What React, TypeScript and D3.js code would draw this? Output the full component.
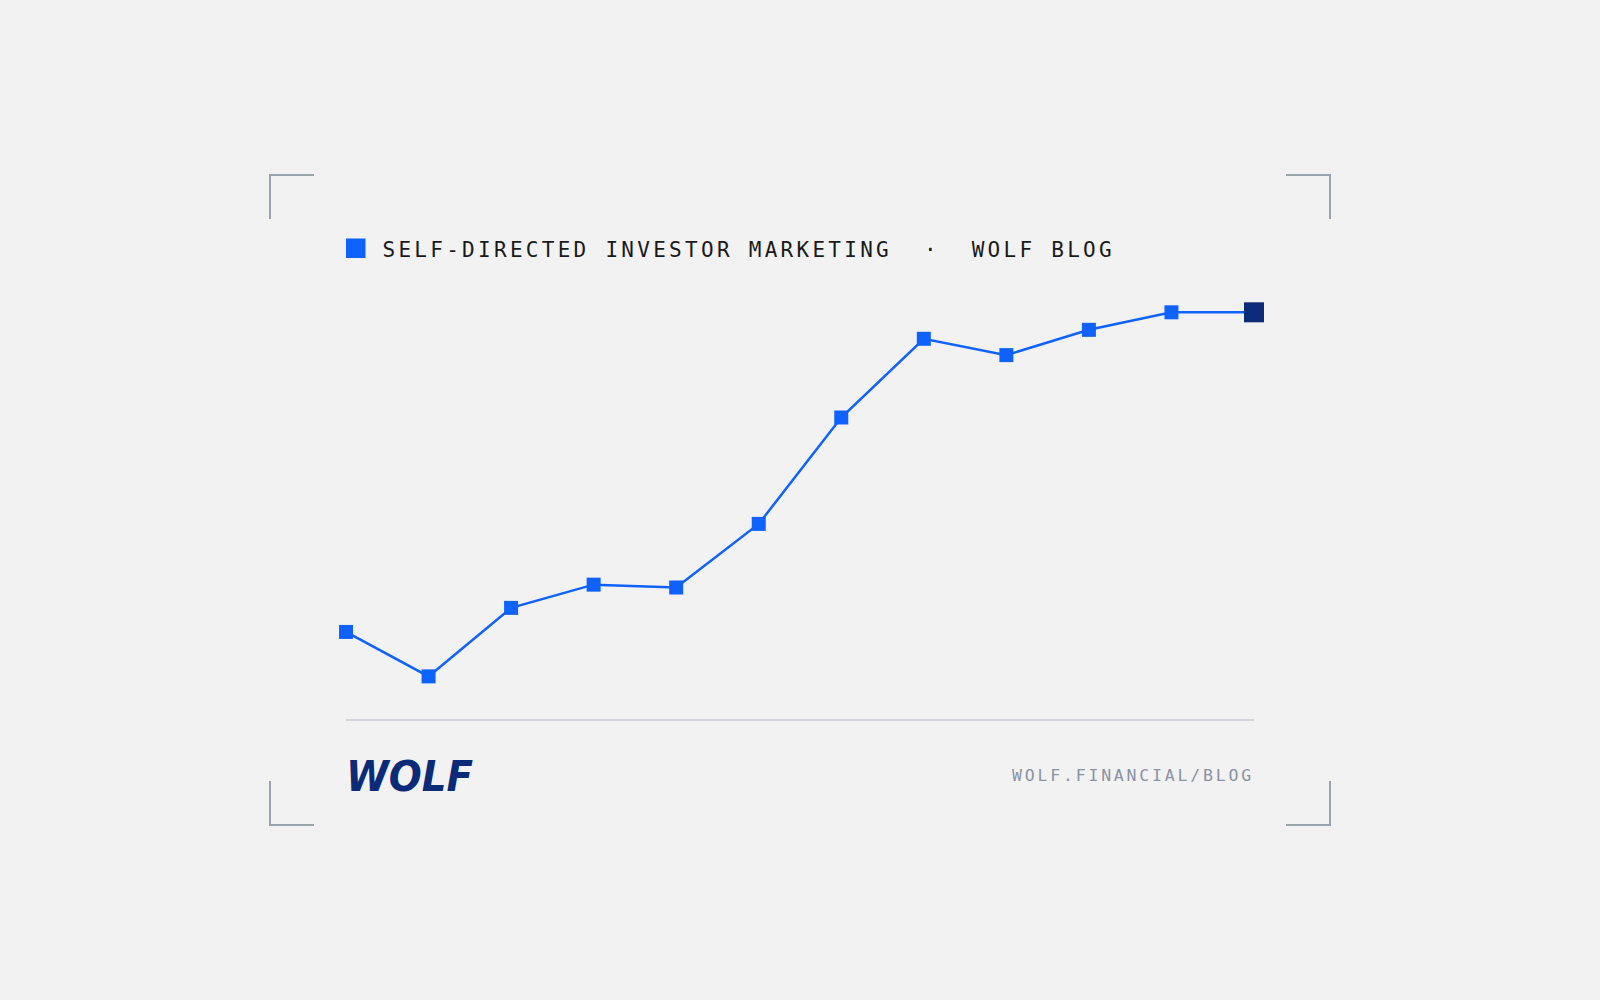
import React from 'react';
import * as d3 from 'd3';

// chart values (index, last point = 100)
const periods = ['1', '2', '3', '4', '5', '6', '7', '8', '9', '10', '11', '12'];
const values = [21.6, 10.7, 27.5, 33.2, 32.5, 48.1, 74.2, 93.5, 89.5, 95.7, 100, 100];
const titleText = 'SELF-DIRECTED INVESTOR MARKETING  ·  WOLF BLOG';
const footerText = 'WOLF.FINANCIAL/BLOG';
const logoText = 'WOLF';

const W = 1600;
const H = 1000;
const BLUE = '#0f62fe';
const NAVY = '#0b2a78';

const App: React.FC = () => {
  const x = d3.scalePoint<string>().domain(periods).range([346, 1254]);
  const y = d3.scaleLinear().domain([0, 100]).range([720, 312.3]);

  const line = d3
    .line<number>()
    .x((_, i) => x(periods[i]) || 0)
    .y((d) => y(d));

  const last = values.length - 1;

  // corner brackets around the card
  const arm = 44;
  const corners = [
    { cx: 270, cy: 175, dx: 1, dy: 1 },
    { cx: 1330, cy: 175, dx: -1, dy: 1 },
    { cx: 270, cy: 825, dx: 1, dy: -1 },
    { cx: 1330, cy: 825, dx: -1, dy: -1 },
  ];

  return (
    <div style={{ position: 'fixed', left: 0, top: 0, width: W, height: H, background: '#f2f2f2' }}>
      <svg width={W} height={H} style={{ display: 'block' }}>
        <rect width={W} height={H} fill="#f2f2f2" />

        {corners.map((c, i) => (
          <path
            key={i}
            d={`M${c.cx + c.dx * arm},${c.cy} H${c.cx} V${c.cy + c.dy * arm}`}
            fill="none"
            stroke="#9aa3ae"
            strokeWidth={2}
          />
        ))}

        {/* title */}
        <rect x={346} y={238.5} width={19.5} height={19.5} fill={BLUE} />
        <text
          x={382.5}
          y={256.5}
          fontFamily="'DejaVu Sans Mono', monospace"
          fontSize={21}
          letterSpacing={3.28}
          fill="#1a1a1a"
          style={{ whiteSpace: 'pre' }}
        >
          {titleText}
        </text>

        {/* series */}
        <path d={line(values) || ''} fill="none" stroke={BLUE} strokeWidth={2.5} />
        {values.map((v, i) =>
          i === last ? null : (
            <rect
              key={i}
              x={(x(periods[i]) || 0) - 7}
              y={y(v) - 7}
              width={14}
              height={14}
              fill={BLUE}
            />
          )
        )}
        <rect
          x={(x(periods[last]) || 0) - 10}
          y={y(values[last]) - 10}
          width={20}
          height={20}
          fill={NAVY}
        />

        {/* baseline */}
        <line x1={346} x2={1254} y1={720} y2={720} stroke="#c8ccd8" strokeWidth={1.5} />

        {/* footer */}
        <text
          x={346}
          y={791}
          fontFamily="'DejaVu Sans', sans-serif"
          fontWeight={900}
          fontStyle="italic"
          fontSize={43}
          textLength={127}
          lengthAdjust="spacingAndGlyphs"
          fill={NAVY}
        >
          {logoText}
        </text>
        <text
          x={1012}
          y={781}
          fontFamily="'DejaVu Sans Mono', monospace"
          fontSize={16.5}
          letterSpacing={2.8}
          fill="#8a93a5"
        >
          {footerText}
        </text>
      </svg>
    </div>
  );
};

export default App;
